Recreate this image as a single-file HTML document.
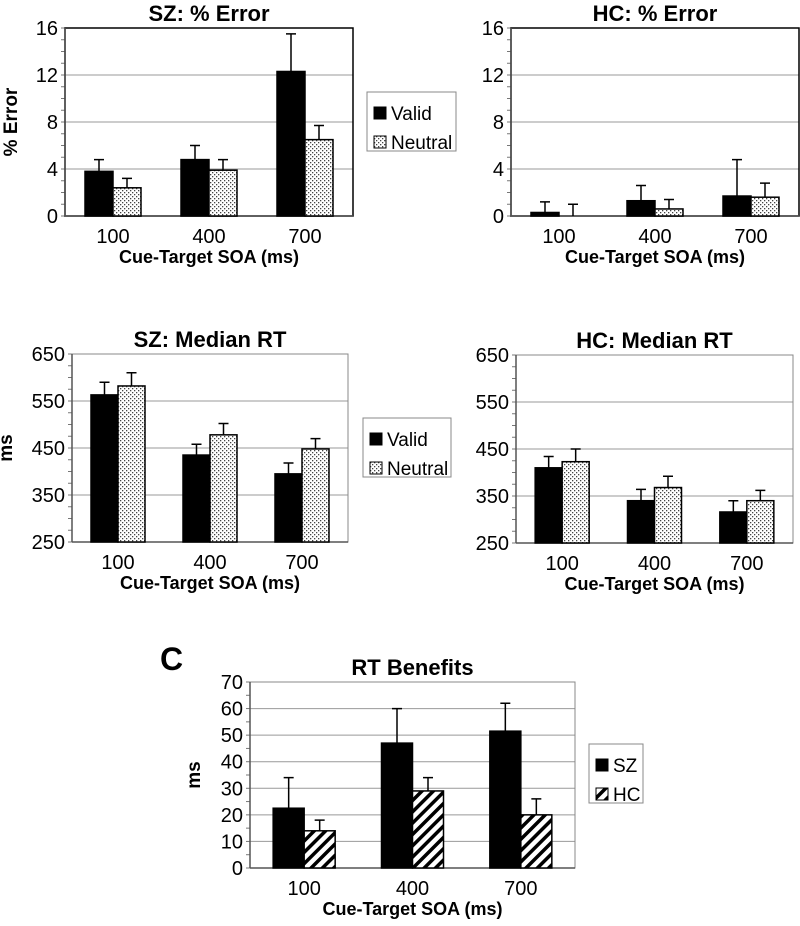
<!DOCTYPE html>
<html><head><meta charset="utf-8"><style>
body{margin:0;background:#fff;}
svg text{font-family:"Liberation Sans",Arial,sans-serif;}
</style></head><body>
<svg id="fig" width="800" height="921" xmlns="http://www.w3.org/2000/svg">
<defs>
<pattern id="dots" width="4" height="4" patternUnits="userSpaceOnUse"><rect width="4" height="4" fill="#fff"/><rect x="0" y="0" width="1.3" height="1.3" fill="#444"/><rect x="2" y="2" width="1.3" height="1.3" fill="#444"/></pattern>
<pattern id="hatch" width="8" height="8" patternUnits="userSpaceOnUse" patternTransform="rotate(45)"><rect width="8" height="8" fill="#fff"/><rect x="0" y="0" width="3.5" height="8" fill="#000"/></pattern>
</defs>
<text x="160" y="670" font-size="32" font-weight="bold">C</text>
</svg>
<script>
const categories = ["100","400","700"];
const szErrValid = [3.8, 4.8, 12.3];
const szErrValidTop = [4.8, 6.0, 15.5];
const szErrNeutral = [2.4, 3.9, 6.5];
const szErrNeutralTop = [3.2, 4.8, 7.7];
const hcErrValid = [0.3, 1.3, 1.7];
const hcErrValidTop = [1.2, 2.6, 4.8];
const hcErrNeutral = [0, 0.6, 1.6];
const hcErrNeutralTop = [1.0, 1.4, 2.8];
const errTicks = [0, 4, 8, 12, 16];
const szRtValid = [563, 435, 395];
const szRtValidTop = [590, 458, 418];
const szRtNeutral = [582, 478, 448];
const szRtNeutralTop = [610, 502, 470];
const hcRtValid = [410, 340, 316];
const hcRtValidTop = [434, 364, 340];
const hcRtNeutral = [423, 368, 340];
const hcRtNeutralTop = [450, 392, 362];
const rtTicks = [250, 350, 450, 550, 650];
const benSZ = [22.5, 47, 51.5];
const benSZTop = [34, 60, 62];
const benHC = [14, 29, 20];
const benHCTop = [18, 34, 26];
const benTicks = [0, 10, 20, 30, 40, 50, 60, 70];

const svg = document.getElementById('fig');
const NS = 'http://www.w3.org/2000/svg';
function mk(tag, attrs, parent){const e=document.createElementNS(NS,tag);for(const k in attrs)e.setAttribute(k,attrs[k]);(parent||svg).appendChild(e);return e;}

function chart(o){
  const g = mk('g',{});
  
  
  const ymin=o.ticks[0], ymax=o.ticks[o.ticks.length-1];
  const y = v => o.y1 - (v-ymin)/(ymax-ymin)*(o.y1-o.y0);
  const cw = (o.x1-o.x0)/categories.length;
  o.ticks.forEach((t,i)=>{
    if(i>0 && i<o.ticks.length-1){const l=mk('line',{x1:o.x0,x2:o.x1,y1:y(t),y2:y(t),stroke:'#999','stroke-width':1},g);
    }
    const tx=mk('text',{x:o.x0-7,y:y(t)+7,'font-size':o.tfs||20,'text-anchor':'end'},g);tx.textContent=t;
    
  });
  const step=(o.ticks[1]-o.ticks[0])/o.minor;
  for(let v=ymin;v<=ymax+1e-9;v+=step){mk('line',{x1:o.x0-4,x2:o.x0,y1:y(v),y2:y(v),stroke:'#777','stroke-width':1},g);}
  const fr=mk('rect',{x:o.x0,y:o.y0,width:o.x1-o.x0,height:o.y1-o.y0,fill:'none',stroke:o.frame,'stroke-width':o.frame=='#000'?1.5:1},g);
  
  mk('line',{x1:o.x0,x2:o.x1,y1:o.y1,y2:o.y1,stroke:'#555','stroke-width':1.5},g);
  mk('line',{x1:o.x0,x2:o.x0,y1:o.y0,y2:o.y1,stroke:'#555','stroke-width':1.5},g);
  categories.forEach((c,i)=>{
    const cx=o.x0+cw*(i+0.5);
    o.series.forEach((s,j)=>{
      const bx=cx-o.bw+j*o.bw, v=s.vals[i], top=s.tops[i];
      const r=mk('rect',{x:bx,y:y(v),width:o.bw,height:Math.max(0,y(ymin)-y(v)),fill:s.fill,stroke:'#000','stroke-width':1.5},g);
      
      const ex=bx+o.bw/2;
      const e=mk('path',{d:`M${ex},${y(v)}V${y(top)}M${ex-5},${y(top)}H${ex+5}`,stroke:'#000','stroke-width':1.5,fill:'none'},g);
      
    });
    const tl=mk('text',{x:cx,y:o.y1+27,'font-size':20,'text-anchor':'middle'},g);tl.textContent=c;
    
  });
  const tt=mk('text',{x:(o.x0+o.x1)/2,y:o.y0-7,'font-size':22,'font-weight':'bold','text-anchor':'middle'},g);tt.textContent=o.title;
  
  const xt=mk('text',{x:(o.x0+o.x1)/2,y:o.y1+47,'font-size':18,'font-weight':'bold','text-anchor':'middle'},g);xt.textContent='Cue-Target SOA (ms)';
  
  if(o.ylab){const yc=(o.y0+o.y1)/2;const yt=mk('text',{x:o.ylx,y:yc,'font-size':19,'font-weight':'bold','text-anchor':'middle',transform:`rotate(-90 ${o.ylx} ${yc})`},g);yt.textContent=o.ylab;
  }
  if(o.legend){const L=o.legend;const lg=mk('g',{},g);
    
    mk('rect',{x:L.x,y:L.y,width:L.w,height:L.h,fill:'#fff',stroke:'#888','stroke-width':1},lg);
    o.series.forEach((s,j)=>{const yy=L.y+15+j*29;
      mk('rect',{x:L.x+7,y:yy,width:12,height:12,fill:s.fill,stroke:'#000','stroke-width':1},lg);
      const t=mk('text',{x:L.x+24,y:yy+13,'font-size':19},lg);t.textContent=s.label;
      });
  }
}
chart({name:'sz-error-chart',title:'SZ: % Error',x0:65,x1:353,y0:28,y1:216,ticks:errTicks,minor:4,bw:28,frame:'#000',ylab:'% Error',ylx:17,
  series:[{key:'valid',label:'Valid',fill:'#000',vals:szErrValid,tops:szErrValidTop},{key:'neutral',label:'Neutral',fill:'url(#dots)',vals:szErrNeutral,tops:szErrNeutralTop}],
  legend:{x:367,y:92,w:89,h:59}});
chart({name:'hc-error-chart',title:'HC: % Error',x0:511,x1:799,y0:28,y1:216,ticks:errTicks,minor:4,bw:28,frame:'#000',
  series:[{key:'valid',label:'Valid',fill:'#000',vals:hcErrValid,tops:hcErrValidTop},{key:'neutral',label:'Neutral',fill:'url(#dots)',vals:hcErrNeutral,tops:hcErrNeutralTop}]});
chart({name:'sz-rt-chart',title:'SZ: Median RT',x0:72,x1:348,y0:354,y1:542,ticks:rtTicks,minor:4,bw:27,frame:'#888',ylab:'ms',ylx:12,
  series:[{key:'valid',label:'Valid',fill:'#000',vals:szRtValid,tops:szRtValidTop},{key:'neutral',label:'Neutral',fill:'url(#dots)',vals:szRtNeutral,tops:szRtNeutralTop}],
  legend:{x:363,y:418,w:88,h:59}});
chart({name:'hc-rt-chart',title:'HC: Median RT',x0:516,x1:793,y0:355,y1:543,ticks:rtTicks,minor:4,bw:27,frame:'#888',
  series:[{key:'valid',label:'Valid',fill:'#000',vals:hcRtValid,tops:hcRtValidTop},{key:'neutral',label:'Neutral',fill:'url(#dots)',vals:hcRtNeutral,tops:hcRtNeutralTop}]});
chart({name:'rt-benefits-chart',title:'RT Benefits',x0:250,x1:575,y0:682,y1:868,ticks:benTicks,minor:2,bw:31,frame:'#888',ylab:'ms',ylx:200,
  series:[{key:'sz',label:'SZ',fill:'#000',vals:benSZ,tops:benSZTop},{key:'hc',label:'HC',fill:'url(#hatch)',vals:benHC,tops:benHCTop}],
  legend:{x:589,y:744,w:54,h:59}});
</script>
</body></html>
